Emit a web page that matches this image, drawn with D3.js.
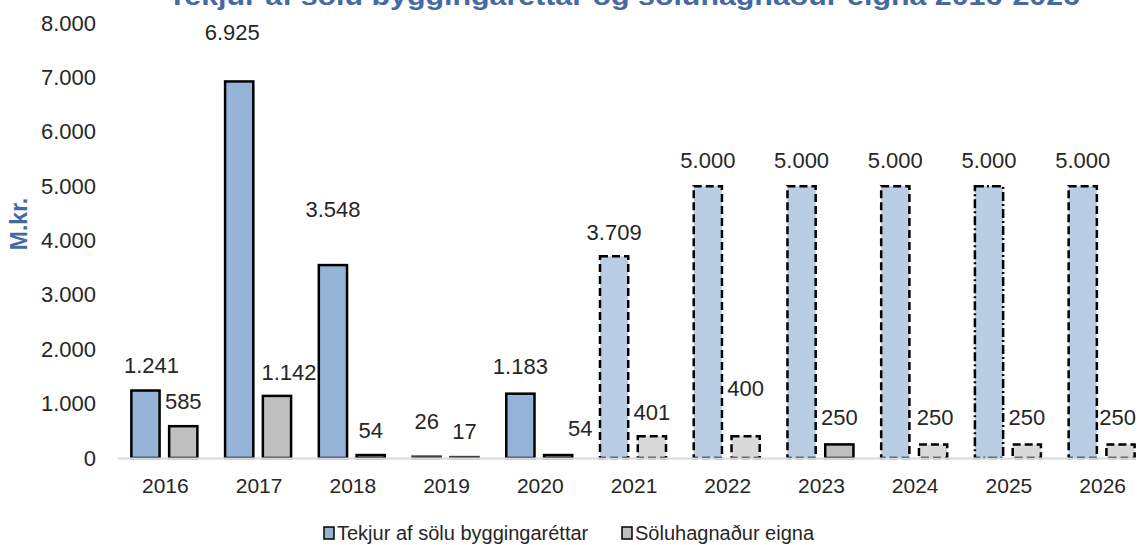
<!DOCTYPE html>
<html>
<head>
<meta charset="utf-8">
<script src="https://cdn.jsdelivr.net/npm/d3@7"></script>
<style>
  body { margin: 0; background: #fff; }
  svg { display: block; font-family: "Liberation Sans", Arial, sans-serif; }
</style>
</head>
<body>
<div id="chart"></div>
<script>
// data
var years = [2016, 2017, 2018, 2019, 2020, 2021, 2022, 2023, 2024, 2025, 2026];
var tekjur = [1241, 6925, 3548, 26, 1183, 3709, 5000, 5000, 5000, 5000, 5000];
var soluhagn = [585, 1142, 54, 17, 54, 401, 400, 250, 250, 250, 250];
var yTicks = [0, 1000, 2000, 3000, 4000, 5000, 6000, 7000, 8000];
var seriesNames = ['Tekjur af sölu byggingaréttar', 'Söluhagnaður eigna'];
var firstForecast = 2021;

// label nudges (px) relative to the top centre of each bar
var tekjurLabelDx = [6, -7, 0, 0, 0, 0, 0, 0, 0, 0, 0];
var tekjurLabelDy = [-25, -49, -56, -35, -27, -24, -26, -26, -26, -26, -26];
var soluLabelDx = [0, 12, 0, 0, 22, 0, 0, 0, 2, 0, -3];
var soluLabelDy = [-25, -24, -25, -26, -27, -24, -48, -27, -27, -27, -27];

var W = 1139, H = 545;
var svg = d3.select('#chart').append('svg')
  .attr('width', W)
  .attr('height', H);

var x0 = d3.scaleBand()
  .domain(years)
  .range([118.5, 1149.5]);

var x1 = d3.scaleBand()
  .domain([0, 1])
  .range([-34, 34])
  .paddingInner(0.2);

var y = d3.scaleLinear()
  .domain([0, 8000])
  .range([458, 23]);

var fmt = function(v) { return d3.format(',')(v).replace(/,/g, '.'); };

// title (mostly cut off above the frame)
svg.append('text')
  .attr('x', 624)
  .attr('y', 5)
  .attr('text-anchor', 'middle')
  .attr('font-size', 26)
  .attr('font-weight', 'bold')
  .attr('fill', '#4469a3')
  .attr('textLength', 912)
  .attr('lengthAdjust', 'spacingAndGlyphs')
  .text('Tekjur af sölu byggingaréttar og söluhagnaður eigna 2016-2026');

// y axis
var yAxis = d3.axisLeft(y)
  .tickValues(yTicks)
  .tickSize(0)
  .tickPadding(0)
  .tickFormat(fmt);

var gy = svg.append('g')
  .attr('transform', 'translate(96,0)')
  .call(yAxis);
gy.select('.domain').remove();
gy.selectAll('text')
  .attr('font-size', 22)
  .attr('font-family', '"Liberation Sans", Arial, sans-serif')
  .attr('fill', '#262626');

svg.append('text')
  .attr('transform', 'translate(27,224) rotate(-90)')
  .attr('text-anchor', 'middle')
  .attr('font-size', 23)
  .attr('font-weight', 'bold')
  .attr('fill', '#4469a3')
  .text('M.kr.');

// bar styling
function barStyle(s, yr) {
  var fc = yr >= firstForecast;
  if (s === 0) {
    return {
      fill: fc ? '#b9cde5' : '#95b3d7',
      dash: !fc ? null : (yr === 2025 ? '9,3,2,3' : '8,4')
    };
  }
  var solid = !fc || yr === 2023;
  return {
    fill: solid ? '#bfbfbf' : '#d9d9d9',
    dash: solid ? null : '8,4'
  };
}

var rows = years.map(function(yr, i) {
  return [
    { s: 0, yr: yr, v: tekjur[i], dx: tekjurLabelDx[i], dy: tekjurLabelDy[i] },
    { s: 1, yr: yr, v: soluhagn[i], dx: soluLabelDx[i], dy: soluLabelDy[i] }
  ];
});

var groups = svg.append('g').selectAll('g')
  .data(rows)
  .join('g')
  .attr('transform', function(d, i) {
    return 'translate(' + (x0(years[i]) + x0.bandwidth() / 2) + ',0)';
  });

groups.selectAll('rect')
  .data(function(d) { return d; })
  .join('rect')
  .attr('x', function(d) { return x1(d.s); })
  .attr('width', x1.bandwidth() - 2)
  .attr('y', function(d) { return y(d.v); })
  .attr('height', function(d) { return y(0) - y(d.v); })
  .attr('fill', function(d) { return barStyle(d.s, d.yr).fill; })
  .attr('stroke', function(d) { return (d.yr === 2019) ? '#404040' : '#000'; })
  .attr('stroke-width', 2.5)
  .attr('stroke-dasharray', function(d) { return barStyle(d.s, d.yr).dash; });

groups.selectAll('text')
  .data(function(d) { return d; })
  .join('text')
  .attr('x', function(d) { return x1(d.s) + (x1.bandwidth() - 2) / 2 + d.dx; })
  .attr('y', function(d) { return y(d.v) + d.dy; })
  .attr('dy', '0.35em')
  .attr('text-anchor', 'middle')
  .attr('font-size', 22)
  .attr('fill', '#262626')
  .text(function(d) { return fmt(d.v); });

// x axis
var xAxis = d3.axisBottom(x0).tickSize(0).tickPadding(20);
var gx = svg.append('g')
  .attr('transform', 'translate(0,' + y(0) + ')')
  .call(xAxis);
gx.select('.domain')
  .attr('d', 'M118,0.5H1136')
  .attr('stroke', '#d9d9d9')
  .attr('stroke-width', 2);
gx.selectAll('text')
  .attr('font-size', 21)
  .attr('font-family', '"Liberation Sans", Arial, sans-serif')
  .attr('fill', '#262626');

// legend
var legX = [324, 622];
var leg = svg.append('g').selectAll('g')
  .data(seriesNames)
  .join('g')
  .attr('transform', function(d, i) { return 'translate(' + legX[i] + ',533)'; });
leg.append('rect')
  .attr('x', 0).attr('y', -6)
  .attr('width', 10).attr('height', 12)
  .attr('fill', function(d, i) { return i === 0 ? '#95b3d7' : '#bfbfbf'; })
  .attr('stroke', '#000')
  .attr('stroke-width', 1.5);
leg.append('text')
  .attr('x', 13)
  .attr('dy', '0.35em')
  .attr('font-size', 20)
  .attr('fill', '#262626')
  .text(function(d) { return d; });
</script>
</body>
</html>
